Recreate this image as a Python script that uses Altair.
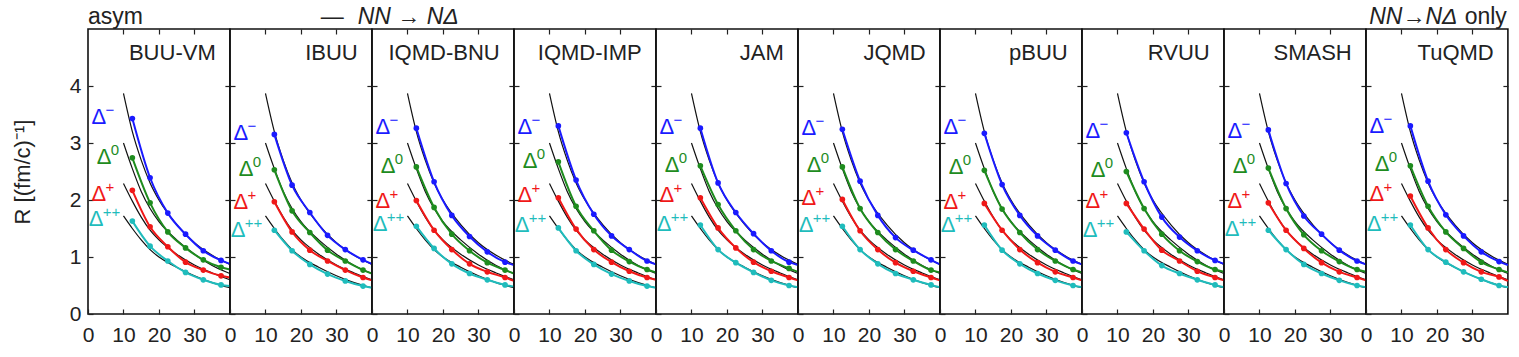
import altair as alt
import pandas as pd

FONT = "Liberation Sans"

MODELS = ["BUU-VM", "IBUU", "IQMD-BNU", "IQMD-IMP", "JAM", "JQMD", "pBUU", "RVUU", "SMASH", "TuQMD"]
SPECIES = ["minus", "zero", "plus", "pp"]
COLORS = ["#1a1aff", "#1e8c1e", "#f01818", "#1fbcbc"]
SUPS = ["\u2212", "0", "+", "++"]

# time bins of the points, plus the panel edge where the fitted lines end
T_PTS = [12.5, 17.5, 22.5, 27.5, 32.5, 37.5]
T_LINE = T_PTS + [40]

# values at T_LINE (last value: where the coloured line meets the right edge)
buu_vm = {"minus": [3.43, 2.39, 1.77, 1.40, 1.11, 0.94, 0.88],
          "zero":  [2.74, 1.95, 1.44, 1.16, 0.95, 0.82, 0.78],
          "plus":  [2.17, 1.53, 1.18, 0.91, 0.77, 0.67, 0.64],
          "pp":    [1.63, 1.19, 0.93, 0.73, 0.60, 0.51, 0.49]}
ibuu = {"minus": [3.15, 2.26, 1.78, 1.38, 1.13, 0.95, 0.88],
        "zero":  [2.53, 1.81, 1.43, 1.12, 0.93, 0.77, 0.71],
        "plus":  [1.97, 1.44, 1.12, 0.93, 0.77, 0.64, 0.59],
        "pp":    [1.47, 1.11, 0.87, 0.70, 0.58, 0.49, 0.46]}
iqmd_bnu = {"minus": [3.26, 2.32, 1.73, 1.36, 1.09, 0.91, 0.86],
            "zero":  [2.58, 1.87, 1.40, 1.11, 0.90, 0.77, 0.71],
            "plus":  [1.99, 1.47, 1.13, 0.88, 0.74, 0.64, 0.58],
            "pp":    [1.54, 1.15, 0.88, 0.71, 0.60, 0.51, 0.48]}
iqmd_imp = {"minus": [3.30, 2.35, 1.75, 1.37, 1.13, 0.93, 0.87],
            "zero":  [2.67, 1.89, 1.46, 1.12, 0.92, 0.78, 0.73],
            "plus":  [2.04, 1.49, 1.13, 0.91, 0.75, 0.64, 0.60],
            "pp":    [1.51, 1.11, 0.87, 0.70, 0.58, 0.49, 0.46]}
jam = {"minus": [3.26, 2.30, 1.78, 1.41, 1.11, 0.91, 0.86],
       "zero":  [2.60, 1.92, 1.46, 1.13, 0.93, 0.80, 0.74],
       "plus":  [2.04, 1.51, 1.16, 0.91, 0.75, 0.64, 0.59],
       "pp":    [1.56, 1.13, 0.90, 0.73, 0.59, 0.50, 0.47]}
jqmd = {"minus": [3.24, 2.33, 1.73, 1.34, 1.12, 0.95, 0.87],
        "zero":  [2.58, 1.85, 1.43, 1.13, 0.93, 0.77, 0.73],
        "plus":  [2.01, 1.46, 1.13, 0.90, 0.75, 0.64, 0.59],
        "pp":    [1.54, 1.13, 0.88, 0.71, 0.60, 0.51, 0.47]}
pbuu = {"minus": [3.17, 2.27, 1.73, 1.37, 1.12, 0.93, 0.87],
        "zero":  [2.52, 1.84, 1.43, 1.13, 0.93, 0.78, 0.73],
        "plus":  [1.94, 1.47, 1.13, 0.90, 0.74, 0.64, 0.59],
        "pp":    [1.56, 1.12, 0.88, 0.71, 0.59, 0.50, 0.47]}
rvuu = {"minus": [3.18, 2.32, 1.70, 1.35, 1.11, 0.94, 0.88],
        "zero":  [2.50, 1.85, 1.40, 1.11, 0.92, 0.78, 0.74],
        "plus":  [1.94, 1.49, 1.12, 0.93, 0.75, 0.64, 0.59],
        "pp":    [1.44, 1.11, 0.85, 0.71, 0.60, 0.51, 0.47]}
smash = {"minus": [3.23, 2.29, 1.72, 1.40, 1.12, 0.93, 0.87],
         "zero":  [2.56, 1.85, 1.39, 1.11, 0.92, 0.78, 0.74],
         "plus":  [1.95, 1.47, 1.15, 0.90, 0.74, 0.64, 0.59],
         "pp":    [1.47, 1.13, 0.87, 0.71, 0.59, 0.50, 0.47]}
tuqmd = {"minus": [3.30, 2.33, 1.74, 1.37, 1.09, 0.92, 0.86],
         "zero":  [2.60, 1.89, 1.44, 1.15, 0.91, 0.78, 0.73],
         "plus":  [2.07, 1.51, 1.13, 0.90, 0.74, 0.65, 0.58],
         "pp":    [1.56, 1.13, 0.91, 0.74, 0.61, 0.50, 0.47]}
VALUES = [buu_vm, ibuu, iqmd_bnu, iqmd_imp, jam, jqmd, pbuu, rvuu, smash, tuqmd]

# NN -> N Delta only reference curves (black), same in every panel
REF_T = [10, 12.5, 15, 17.5, 20, 25, 30, 35, 40]
ref_minus = [3.87, 3.20, 2.70, 2.30, 2.00, 1.57, 1.25, 1.03, 0.87]
ref_zero = [3.00, 2.55, 2.15, 1.85, 1.62, 1.30, 1.05, 0.85, 0.71]
ref_plus = [2.29, 1.98, 1.70, 1.47, 1.30, 1.05, 0.86, 0.72, 0.60]
ref_pp = [1.72, 1.50, 1.30, 1.13, 1.00, 0.82, 0.67, 0.55, 0.46]
REFS = [ref_minus, ref_zero, ref_plus, ref_pp]

# Delta labels: x in data units, baseline y per panel
LAB_X = [1.0, 2.5, 1.0, 0.2]
LAB_Y = [[3.33, 2.63, 1.98, 1.54], [3.05, 2.42, 1.84, 1.35], [3.16, 2.47, 1.86, 1.46],
         [3.16, 2.56, 1.97, 1.43], [3.16, 2.50, 1.97, 1.46], [3.14, 2.50, 1.91, 1.43],
         [3.15, 2.46, 1.84, 1.43], [3.09, 2.40, 1.86, 1.35], [3.09, 2.48, 1.86, 1.37],
         [3.18, 2.51, 1.98, 1.46]]

W = 141.9
H = 285

xsc = alt.Scale(domain=[0, 40], nice=False, zero=False)
ysc = alt.Scale(domain=[0, 5], nice=False)
csc = alt.Scale(domain=SPECIES, range=COLORS)


def panel(i):
    vals = VALUES[i]
    ref_rows, line_rows, pt_rows, lab_rows = [], [], [], []
    for k, s in enumerate(SPECIES):
        for t, v in zip(REF_T, REFS[k]):
            ref_rows.append({"t": t, "r": v, "s": s})
        for j, (t, v) in enumerate(zip(T_LINE, vals[s])):
            line_rows.append({"t": t, "r": v, "s": s})
            if j < len(T_PTS):
                pt_rows.append({"t": t, "r": v, "s": s})
        lab_rows.append({"t": LAB_X[k], "r": LAB_Y[i][k], "s": s, "sup": SUPS[k]})
    ref_df = pd.DataFrame(ref_rows)
    line_df = pd.DataFrame(line_rows)
    pt_df = pd.DataFrame(pt_rows)
    lab_df = pd.DataFrame(lab_rows)

    ax_bottom = alt.Axis(orient="bottom", values=[0, 10, 20, 30], offset=-5, tickSize=5,
                         domain=False, labelPadding=10, labelFlush=False, title=None,
                         grid=False, format="d")
    ax_left = alt.Axis(orient="left", values=[0, 1, 2, 3, 4], offset=-5, tickSize=5,
                       domain=False, labelPadding=7, labels=(i == 0), grid=False, format="d",
                       title=("R [(fm/c)\u207b\u00b9]" if i == 0 else None), titlePadding=35)
    ax_top = alt.Axis(orient="top", values=[10, 20, 30], offset=-5, tickSize=5,
                      domain=False, labels=False, title=None, grid=False)
    ax_right = alt.Axis(orient="right", values=[1, 2, 3, 4], offset=-5, tickSize=5,
                        domain=False, labels=False, title=None, grid=False)

    refs = alt.Chart(ref_df).mark_line(color="#111", strokeWidth=1.2, interpolate="monotone").encode(
        x=alt.X("t:Q", scale=xsc, axis=ax_bottom),
        y=alt.Y("r:Q", scale=ysc, axis=ax_left),
        detail="s:N")
    lines = alt.Chart(line_df).mark_line(strokeWidth=2, interpolate="monotone").encode(
        x=alt.X("t:Q", scale=xsc, axis=None),
        y=alt.Y("r:Q", scale=ysc, axis=None),
        color=alt.Color("s:N", scale=csc, legend=None))
    pts = alt.Chart(pt_df).mark_circle(size=32, opacity=1).encode(
        x=alt.X("t:Q", scale=xsc, axis=ax_top),
        y=alt.Y("r:Q", scale=ysc, axis=ax_right),
        color=alt.Color("s:N", scale=csc, legend=None))
    lab = alt.Chart(lab_df).mark_text(font=FONT, fontSize=22, align="left", baseline="alphabetic").encode(
        x=alt.X("t:Q", scale=xsc, axis=None),
        y=alt.Y("r:Q", scale=ysc, axis=None),
        text=alt.value("\u0394"),
        color=alt.Color("s:N", scale=csc, legend=None))
    sup = alt.Chart(lab_df).mark_text(font=FONT, fontSize=15, align="left", baseline="alphabetic",
                                      dx=14, dy=-9).encode(
        x=alt.X("t:Q", scale=xsc, axis=None),
        y=alt.Y("r:Q", scale=ysc, axis=None),
        text="sup:N",
        color=alt.Color("s:N", scale=csc, legend=None))
    name_df = pd.DataFrame({"t": [36.0], "r": [4.46], "name": [MODELS[i]]})
    name = alt.Chart(name_df).mark_text(font=FONT, fontSize=22, align="right", baseline="alphabetic",
                                        color="#222").encode(
        x=alt.X("t:Q", scale=xsc, axis=None),
        y=alt.Y("r:Q", scale=ysc, axis=None),
        text="name:N")
    layers = [refs, lines, pts, lab, sup, name]

    ann = []
    if i == 0:
        ann.append(({"t": [0.0], "r": [5.08], "txt": ["asym"]}, "left", "normal"))
    if i == 1:
        ann.append(({"t": [25.6], "r": [5.08], "txt": ["\u2014"]}, "left", "normal"))
        ann.append(({"t": [36.0], "r": [5.08], "txt": ["NN \u2192 N\u0394"]}, "left", "italic"))
    if i == 5:
        ann.append(({"t": [0.0], "r": [-1.1], "txt": ["time [fm/c]"]}, "center", "normal"))
    if i == 9:
        ann.append(({"t": [25.8], "r": [5.08], "txt": ["NN\u2192N\u0394"]}, "right", "italic"))
        ann.append(({"t": [39.7], "r": [5.08], "txt": ["only"]}, "right", "normal"))
    for d, al, st in ann:
        layers.append(alt.Chart(pd.DataFrame(d)).mark_text(
            font=FONT, fontSize=23, align=al, baseline="alphabetic", fontStyle=st,
            color="#222").encode(
            x=alt.X("t:Q", scale=xsc, axis=None),
            y=alt.Y("r:Q", scale=ysc, axis=None),
            text="txt:N"))

    return alt.layer(*layers).resolve_axis(x="independent", y="independent").properties(width=W, height=H)


chart = alt.hconcat(*[panel(i) for i in range(10)], spacing=0, bounds="flush").properties(
    padding={"left": 10, "top": 5, "right": 5, "bottom": 5}
).configure_view(stroke="#111", strokeWidth=1.6).configure_axis(
    labelFont=FONT, titleFont=FONT, labelFontSize=21, titleFontSize=22,
    labelColor="#222", titleColor="#222", tickColor="#222", tickWidth=1.2,
    titleFontWeight="normal")

chart.save("out.html", embed_options={"renderer": "svg", "actions": False})
